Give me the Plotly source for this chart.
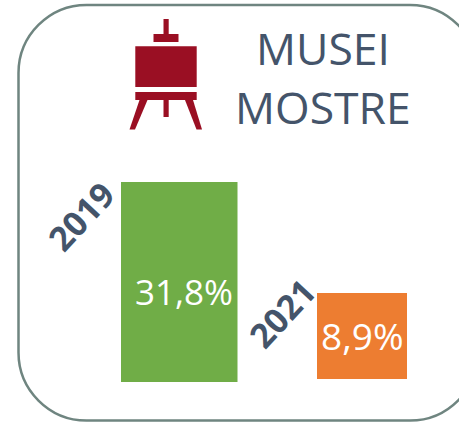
import plotly.graph_objects as go

years = ["2019", "2021"]
values = [31.8, 8.9]
value_labels = ["31,8%", "8,9%"]
title_lines = ["MUSEI", "MOSTRE"]
bar_colors = ["#70AD47", "#ED7D31"]

W, H = 459, 422
INK = "#44546A"
RED = "#9A0F23"
FRAME = "#6F8580"


def px(x):
    return x / W


def py(y):
    return 1 - y / H


# pixel boxes of the two independent bar panels (left, right, top, bottom)
panels = [(121, 237.5, 182, 382), (317, 407, 293, 379)]

fig = go.Figure()
layout_axes = {}
for i, (name, val, col, box) in enumerate(zip(years, values, bar_colors, panels)):
    n = "" if i == 0 else str(i + 1)
    fig.add_trace(go.Bar(x=[name], y=[val], marker=dict(color=col, line=dict(width=0)),
                         xaxis="x" + n, yaxis="y" + n, showlegend=False, hoverinfo="skip"))
    layout_axes["xaxis" + n] = dict(domain=[px(box[0]), px(box[1])], visible=False, anchor="y" + n, type="category")
    layout_axes["yaxis" + n] = dict(domain=[py(box[3]), py(box[2])], range=[0, val], visible=False, anchor="x" + n)


def note(text, x, y, size, color, bold=False, angle=0, family="Open Sans"):
    return dict(text=f"<b>{text}</b>" if bold else text, x=px(x), y=py(y), xref="paper", yref="paper",
                xanchor="center", yanchor="middle", showarrow=False, textangle=angle,
                font=dict(family=family, size=size, color=color))


annotations = [
    note(title_lines[0], 323, 48, 44.5, INK),
    note(title_lines[1], 323, 106, 44.5, INK),
    note(years[0], 81, 216, 34, INK, bold=True, angle=-47),
    note(years[1], 282, 313, 34, INK, bold=True, angle=-47),
    note(value_labels[0], 183.5, 291, 35, "white"),
    note(value_labels[1], 362, 335, 37, "white"),
]


def poly(points, color):
    d = "M " + " L ".join(f"{px(x)} {py(y)}" for x, y in points) + " Z"
    return dict(type="path", path=d, xref="paper", yref="paper", fillcolor=color, line=dict(width=0), layer="above")


def box(x0, x1, y0, y1):
    return poly([(x0, y0), (x1, y0), (x1, y1), (x0, y1)], RED)


L, R, T, B, r = 18.5, 478, 5, 420.5, 68
k = r * 0.45


def pt(x, y):
    return f"{px(x)} {py(y)}"


frame = (f"M {pt(L + r, T)} L {pt(R - r, T)} C {pt(R - k, T)} {pt(R, T + k)} {pt(R, T + r)} "
         f"L {pt(R, B - r)} C {pt(R, B - k)} {pt(R - k, B)} {pt(R - r, B)} "
         f"L {pt(L + r, B)} C {pt(L + k, B)} {pt(L, B - k)} {pt(L, B - r)} "
         f"L {pt(L, T + r)} C {pt(L, T + k)} {pt(L + k, T)} {pt(L + r, T)} Z")

shapes = [
    dict(type="path", path=frame, xref="paper", yref="paper", line=dict(color=FRAME, width=2.5), layer="below"),
    box(163.5, 168.7, 19, 34),
    box(153.5, 178.5, 34, 42),
    box(135.3, 196.7, 46.3, 87),
    box(135.3, 196.7, 92, 100),
    box(163.5, 168.7, 100, 117),
    poly([(139.5, 100), (147.5, 100), (135, 129.5), (129.5, 129.5)], RED),
    poly([(185, 100), (193, 100), (202, 129.5), (196.5, 129.5)], RED),
]

fig.update_layout(width=W, height=H, margin=dict(l=0, r=0, t=0, b=0), paper_bgcolor="white",
                  plot_bgcolor="rgba(0,0,0,0)", bargap=0, shapes=shapes, annotations=annotations, **layout_axes)
fig.write_html("out.html", post_script="document.body.style.margin='0';document.body.style.overflow='hidden';",
               config={"displayModeBar": False})
